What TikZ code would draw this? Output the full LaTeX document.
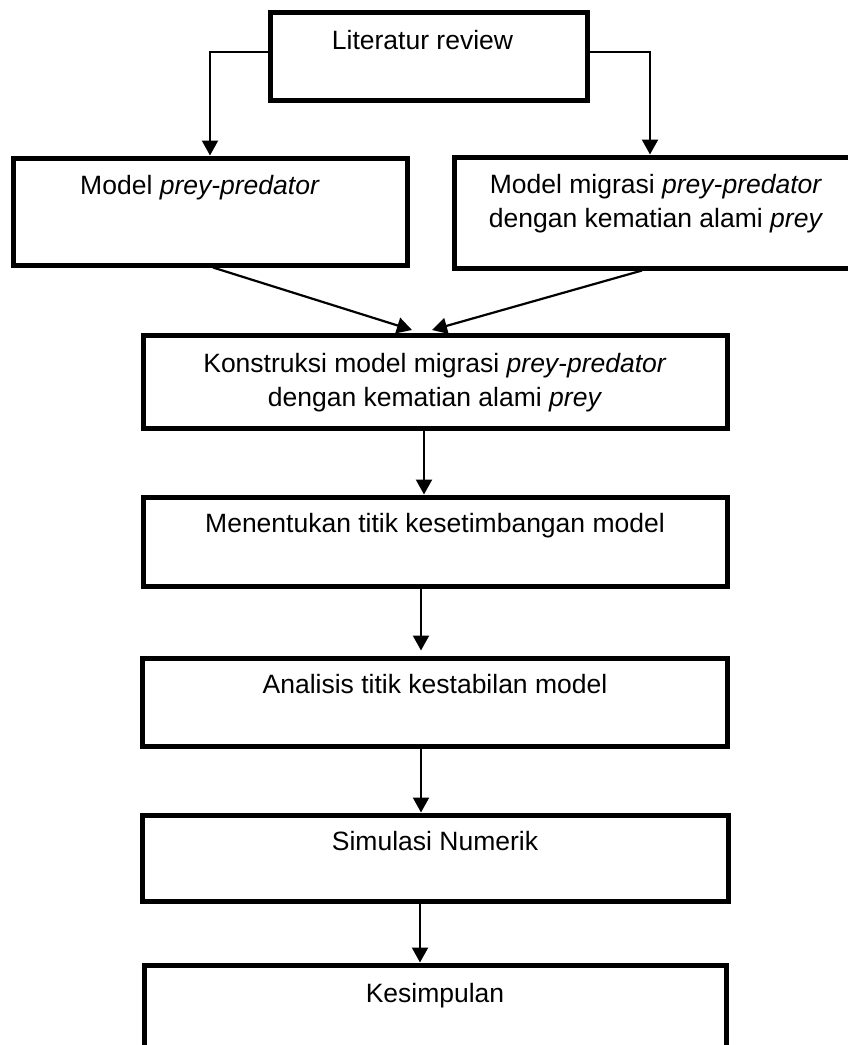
\documentclass[tikz,border=0pt]{standalone}
\usepackage{fontspec}
\setmainfont{Liberation Sans}
\usetikzlibrary{positioning,arrows.meta}
\tikzset{
  >={Triangle[length=15pt,width=16pt]},
  stepbox/.style={draw,line width=5pt,inner sep=0pt},
  boxtxt/.style={font=\fontsize{26.5}{34}\selectfont,align=center,
    inner sep=0pt},
  flow/.style={->,line width=2.2pt},
}

\begin{document}
\begin{tikzpicture}[x=1pt,y=1pt]
  \useasboundingbox (0,0) rectangle (848,-1045);
  \clip (0,0) rectangle (848,-1045);
  % top row
  \node[stepbox,minimum width=317pt,minimum height=88pt] (lit) at (428.5,-56) {};
  \node[stepbox,minimum width=394pt,minimum height=107pt] (mpp) at (210,-211.5) {};
  \node[stepbox,minimum width=404pt,minimum height=111pt] (mig) at (656,-212.5) {};
  % main column
  \node[stepbox,minimum width=584pt,minimum height=93pt] (kon) at (435,-381.5) {};
  \node[stepbox,minimum width=584pt,minimum height=89pt,below=64pt of kon] (men) {};
  \node[stepbox,minimum width=585pt,minimum height=88pt,below=67pt of men] (ana) {};
  \node[stepbox,minimum width=586pt,minimum height=86pt,below=64pt of ana] (sim) {};
  \node[stepbox,minimum width=582pt,minimum height=100pt,below=59pt of sim] (kes) {};
  % texts
  \node[boxtxt,below=21pt of lit.north,xshift=-6pt] (litT) {Literatur review};
  \node[boxtxt,below=20pt of mpp.north,xshift=-10pt] (mppT) {Model \textit{prey-predator}};
  \node[boxtxt,below=20pt of mig.north] (migT)
    {Model migrasi \textit{prey-predator}\\dengan kematian alami \textit{prey}};
  \node[boxtxt,below=21pt of kon.north] (konT)
    {Konstruksi model migrasi \textit{prey-predator}\\dengan kematian alami \textit{prey}};
  \node[boxtxt,below=19pt of men.north] (menT) {Menentukan titik kesetimbangan model};
  \node[boxtxt,below=19pt of ana.north] (anaT) {Analisis titik kestabilan model};
  \node[boxtxt,below=19pt of sim.north] (simT) {Simulasi Numerik};
  \node[boxtxt,below=21pt of kes.north] (kesT) {Kesimpulan};
  % connectors
  \draw[flow] ([yshift=4pt]lit.west) -| (mpp.north);
  \draw[flow] ([yshift=4pt]lit.east) -| ([xshift=-6pt]mig.north);
  \draw[flow] ([xshift=3pt]mpp.south) -- ([xshift=-23pt,yshift=2.5pt]kon.north);
  \draw[flow] ([xshift=-14pt]mig.south) -- ([xshift=-3pt,yshift=2.5pt]kon.north);
  \draw[flow] ([xshift=-11pt]kon.south) -- ([xshift=-11pt]kon.south |- men.north);
  \draw[flow] ([xshift=-14pt]men.south) -- ([xshift=-14pt,yshift=5pt]men.south |- ana.north);
  \draw[flow] ([xshift=-14pt]ana.south) -- ([xshift=-14pt]ana.south |- sim.north);
  \draw[flow] ([xshift=-15pt,yshift=4pt]sim.south) -- ([xshift=-15pt]sim.south |- kes.north);
\end{tikzpicture}
\end{document}
